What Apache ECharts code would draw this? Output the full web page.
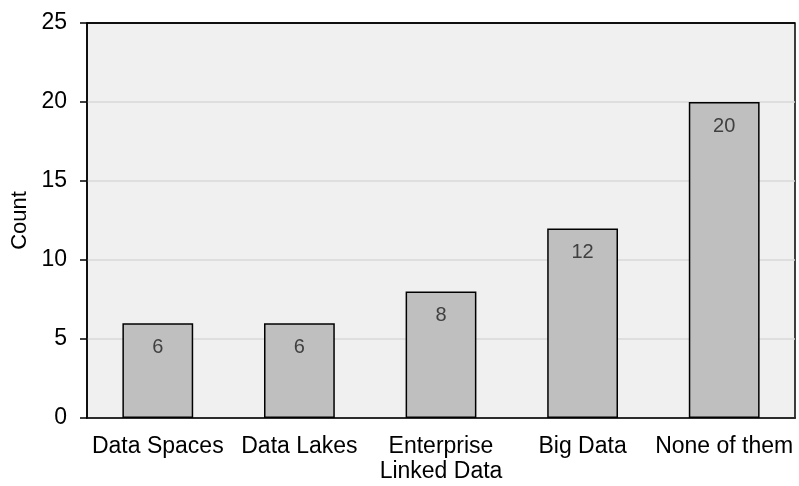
<!DOCTYPE html>
<html>
<head>
<meta charset="utf-8">
<script src="https://cdn.jsdelivr.net/npm/echarts@6/dist/echarts.min.js"></script>
<style>
  html, body { margin: 0; padding: 0; background: #ffffff; }
  #chart { width: 799px; height: 486px; }
</style>
</head>
<body>
<div id="chart"></div>
<script>
// Categories and counts for the bar chart
const categories = ['Data Spaces', 'Data Lakes', 'Enterprise\nLinked Data', 'Big Data', 'None of them'];
const counts = [6, 6, 8, 12, 20];
const yTicks = [0, 5, 10, 15, 20, 25];

const chart = echarts.init(document.getElementById('chart'), null, { renderer: 'canvas' });

const font = 'Arial, "Liberation Sans", sans-serif';

// light gridlines, with the top one drawn black as part of the frame
const splitColors = yTicks.map((t, i) => (i === yTicks.length - 1 ? '#000000' : '#d9d9d9'));

chart.setOption({
  animation: false,
  grid: {
    left: 87, right: 4, top: 23, bottom: 68,
    show: true,
    backgroundColor: '#f0f0f0',
    borderColor: '#000000',
    borderWidth: 1.5
  },
  xAxis: {
    type: 'category',
    data: categories,
    axisLine: { show: true, lineStyle: { color: '#000000', width: 1.5 } },
    axisTick: { show: false },
    axisLabel: {
      color: '#000000', fontSize: 23, fontFamily: font,
      margin: 16, lineHeight: 25, interval: 0
    }
  },
  yAxis: {
    type: 'value',
    min: yTicks[0],
    max: yTicks[yTicks.length - 1],
    interval: 5,
    name: 'Count',
    nameLocation: 'middle',
    nameGap: 56,
    nameTextStyle: { color: '#000000', fontSize: 22, fontFamily: font },
    axisLine: { show: true, lineStyle: { color: '#000000', width: 1.5 } },
    axisTick: { show: true, length: 7, lineStyle: { color: '#000000', width: 1.5 } },
    axisLabel: { color: '#000000', fontSize: 23, fontFamily: font, margin: 20 },
    splitLine: { show: true, lineStyle: { color: splitColors, width: 1.5 } }
  },
  series: [{
    type: 'bar',
    data: counts,
    barWidth: '50%',
    itemStyle: { color: '#bfbfbf', borderColor: '#000000', borderWidth: 1.5 },
    label: {
      show: true,
      position: 'insideTop',
      distance: 14,
      color: '#404040',
      fontSize: 20,
      fontFamily: font
    }
  }]
});
</script>
</body>
</html>
